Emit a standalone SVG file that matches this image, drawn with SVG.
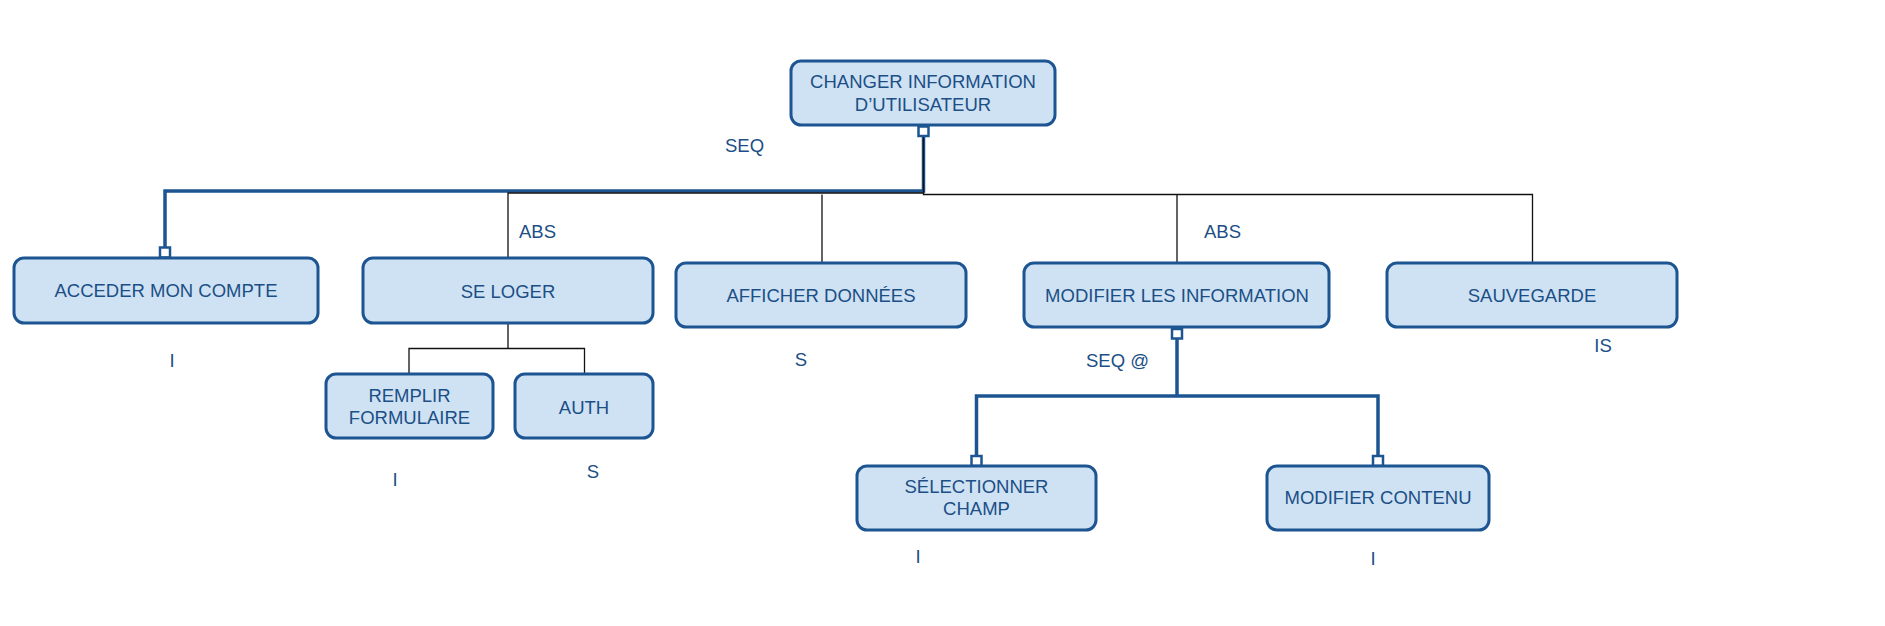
<svg xmlns="http://www.w3.org/2000/svg" width="1885" height="626" viewBox="0 0 1885 626">
<style>
.box{fill:#cfe2f3;stroke:#1d5592;stroke-width:3}
.t{font-family:"Liberation Sans",Arial,sans-serif;font-size:18.5px;fill:#1b4f86;text-anchor:middle}
.l{font-family:"Liberation Sans",Arial,sans-serif;font-size:18.5px;fill:#1b4f86}
.thin{fill:none;stroke:#111;stroke-width:1.3}
.thick{fill:none;stroke:#1d5592;stroke-width:3.5}
.sq{fill:#fff;stroke:#1d5592;stroke-width:2.5}
</style>
<rect width="1885" height="626" fill="#fff"/>
<g id="connectors">
<path class="thick" d="M923.5,136 V191 H165 V247"/>
<path class="thin" d="M923.5,136 V193 H508 V258"/>
<path class="thin" d="M923.5,193 V194.5 H1532.5 V263 M822,194.5 V263 M1177,194.5 V263"/>
<path class="thin" d="M508,323 V348.5 M409,374 V348.5 H584.5 V374"/>
<path class="thick" d="M1177,339 V396 M976.5,456 V396 H1378 V456"/>
<rect class="sq" x="918.5" y="126.5" width="10" height="9.5"/>
<rect class="sq" x="160" y="247.5" width="10" height="10"/>
<rect class="sq" x="1172" y="329" width="10" height="9.5"/>
<rect class="sq" x="971.5" y="456" width="10" height="10"/>
<rect class="sq" x="1373" y="456" width="10" height="10"/>
<text class="l" x="725" y="152">SEQ</text>
<text class="l" x="519" y="238">ABS</text>
<text class="l" x="1204" y="238">ABS</text>
<text class="l" x="1086" y="367">SEQ @</text>
</g>
<g id="root">
<rect class="box" x="791" y="61" width="264" height="64" rx="10"/>
<text class="t" x="923" y="88">CHANGER INFORMATION</text>
<text class="t" x="923" y="111">D’UTILISATEUR</text>
</g>
<g id="acceder">
<rect class="box" x="14" y="258" width="304" height="65" rx="10"/>
<text class="t" x="166" y="297">ACCEDER MON COMPTE</text>
<text class="t" x="172" y="367">I</text>
</g>
<g id="seloger">
<rect class="box" x="363" y="258" width="290" height="65" rx="10"/>
<text class="t" x="508" y="297.5">SE LOGER</text>
</g>
<g id="remplir">
<rect class="box" x="326" y="374" width="167" height="64" rx="10"/>
<text class="t" x="409.5" y="402">REMPLIR</text>
<text class="t" x="409.5" y="424">FORMULAIRE</text>
<text class="t" x="395" y="486">I</text>
</g>
<g id="auth">
<rect class="box" x="515" y="374" width="138" height="64" rx="10"/>
<text class="t" x="584" y="414">AUTH</text>
<text class="t" x="593" y="478">S</text>
</g>
<g id="afficher">
<rect class="box" x="676" y="263" width="290" height="64" rx="10"/>
<text class="t" x="821" y="302">AFFICHER DONNÉES</text>
<text class="t" x="801" y="366">S</text>
</g>
<g id="modifier">
<rect class="box" x="1024" y="263" width="305" height="64" rx="10"/>
<text class="t" x="1177" y="302">MODIFIER LES INFORMATION</text>
</g>
<g id="sauvegarde">
<rect class="box" x="1387" y="263" width="290" height="64" rx="10"/>
<text class="t" x="1532" y="302">SAUVEGARDE</text>
<text class="t" x="1603" y="352">IS</text>
</g>
<g id="selectionner">
<rect class="box" x="857" y="466" width="239" height="64" rx="10"/>
<text class="t" x="976.5" y="493">SÉLECTIONNER</text>
<text class="t" x="976.5" y="515">CHAMP</text>
<text class="t" x="918" y="563">I</text>
</g>
<g id="contenu">
<rect class="box" x="1267" y="466" width="222" height="64" rx="10"/>
<text class="t" x="1378" y="504">MODIFIER CONTENU</text>
<text class="t" x="1373" y="565">I</text>
</g>
</svg>
